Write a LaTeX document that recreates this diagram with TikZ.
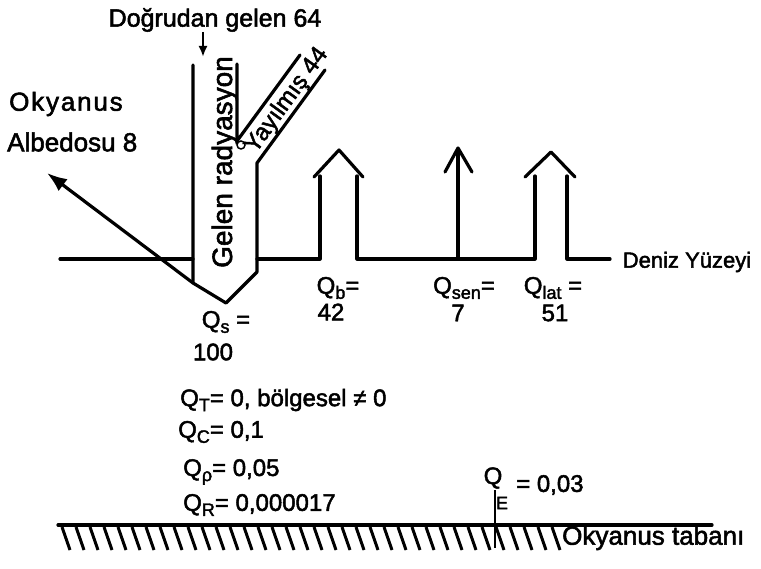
\documentclass[tikz,border=0pt]{standalone}
\usepackage{fontspec}
\setmainfont{Liberation Sans}
\usetikzlibrary{arrows.meta}
\newcommand\lowsub[1]{\raisebox{-0.4ex}{\fontsize{18}{20}\selectfont\addfontfeature{FakeBold=2}#1}}
\newcommand\heavy{\addfontfeature{FakeBold=2}}
\begin{document}
\begin{tikzpicture}[x=1pt,y=-1pt,
  ln/.style={line width=3.2pt, line join=round, line cap=round},
  txt/.style={inner sep=0pt, font=\fontsize{24}{28}\selectfont\heavy},
  big/.style={inner sep=0pt, font=\fontsize{26}{30}\selectfont\heavy}]
\useasboundingbox (0,0) rectangle (761,569);
% main incoming radiation shape
\coordinate (L1) at (193,65);
\coordinate (VL) at (193,283);
\coordinate (VB) at (226,303);
\coordinate (VR) at (257,272);
\coordinate (R1) at (257,163);
\coordinate (R2) at (325,70);
\coordinate (I1) at (237,64);
\coordinate (I2) at (237,141);
\coordinate (I3) at (300,55);
\draw[ln] (L1) -- (VL) -- (VB) -- (VR) -- (R1) -- (R2);
\draw[ln] (I1) -- (I2) -- (I3);
\node[circle, draw, line width=1.5pt, minimum size=8pt, inner sep=0pt] (jn) at (241,145) {};
% texts top
\node[txt, font=\fontsize{25}{30}\selectfont\heavy] (dog) at (215,20) {Doğrudan gelen 64};
\coordinate (dA) at (203,32);
\coordinate (dB) at (203,57);
\draw[line width=2.5pt, -{Latex[length=11pt,width=9pt]}] (dA) -- (dB);
\node[big, anchor=west] (oky) at (9,104) {\addfontfeature{LetterSpace=7}Okyanus};
\node[big, anchor=west] (albt) at (7,142) {Albedosu 8};
\node[txt, rotate=90, anchor=base, font=\fontsize{28}{32}\selectfont\heavy] (gel) at (232,162) {Gelen radyasyon};
\node[txt, rotate=54, anchor=base, font=\fontsize{24}{30}\selectfont\heavy] (yay) at (292,104) {Yayılmış 44};
% albedo arrow
\coordinate (alb) at (47,173);
\draw[ln, -{Latex[length=20pt,width=15pt]}] (VL) -- (alb);
% sea surface
\coordinate (S0) at (60,259);
\coordinate (S1) at (193,259);
\draw[ln] (S0) -- (S1);
\draw[ln] (257,259) -- (320,259) -- (320,176);
\draw[ln] (357,176) -- (357,259) -- (535,259) -- (535,176);
\draw[ln] (567,176) -- (567,259) -- (610,259);
\draw[ln] (314,177) -- (339,150) -- (363,177);
\draw[ln] (525,177) -- (551,152) -- (575,177);
\draw[ln] (458,259) -- (458,150);
\draw[ln] (445,172) -- (458,148) -- (472,172);
\node[txt, font=\fontsize{22}{26}\selectfont\heavy] (dz) at (687,262) {Deniz Yüzeyi};
% flux labels
\node[txt] (qs) at (226,322) {Q\lowsub{s} =};
\node[txt] (qsv) at (213,352) {100};
\node[txt] (qb) at (338,288) {Q\lowsub{b}=};
\node[txt] (qbv) at (331,312) {42};
\node[txt] (qsen) at (464,288) {Q\lowsub{sen}=};
\node[txt] (qsenv) at (458,313) {7};
\node[txt] (qlat) at (553,288) {Q\lowsub{lat} =};
\node[txt] (qlatv) at (555,313) {51};
% lower block
\node[txt, anchor=west] (qt) at (180,400) {Q\lowsub{T}= 0, bölgesel ≠ 0};
\node[txt, anchor=west] (qc) at (178,432) {Q\lowsub{C}= 0,1};
\node[txt, anchor=west] (qr) at (183,472) {Q\lowsub{ρ}= 0,05};
\node[txt, anchor=west] (qrr) at (183,505) {Q\lowsub{R}= 0,000017};
\node[txt] (qe) at (493,478) {Q};
\node[txt, font=\fontsize{18}{20}\selectfont\heavy] (qee) at (502,503) {E};
\node[txt, anchor=west] (qev) at (516,485) {= 0,03};
\coordinate (E1) at (495,490);
\coordinate (E2) at (495,548);
\draw[line width=2.5pt] (E1) -- (E2);
% ocean floor
\coordinate (G0) at (58,525);
\coordinate (G1) at (712,525);
\draw[ln] (G0) -- (G1);
\foreach \x in {62,76,...,552} \draw[line width=3pt] (\x,527) -- (\x+8,550);
\node[big, anchor=west, font=\fontsize{26}{30}\selectfont\heavy] (tab) at (562,538) {Okyanus tabanı};
\end{tikzpicture}
\end{document}
